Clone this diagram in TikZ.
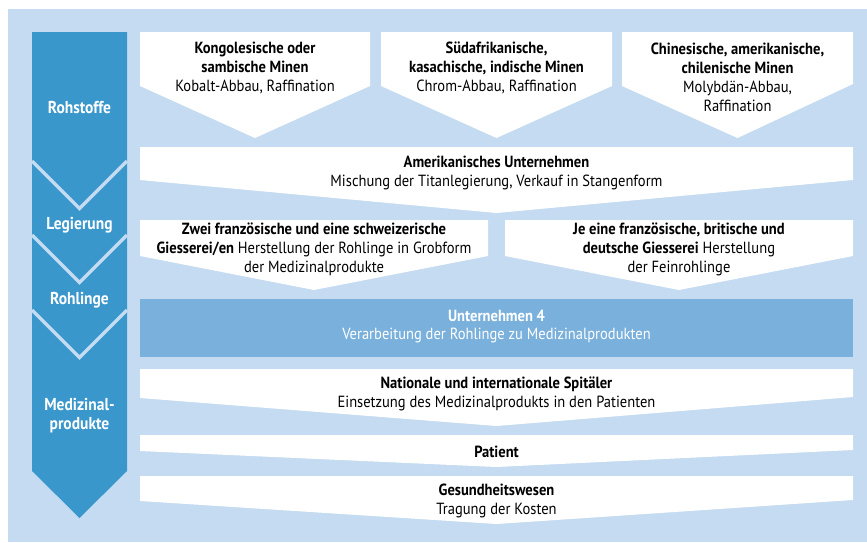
\documentclass[tikz,border=0pt]{standalone}
\usepackage{fontspec}
\setmainfont{PT Sans}[FakeStretch=0.9]
\definecolor{bgblue}{RGB}{197,219,241}
\definecolor{colblue}{RGB}{58,151,204}
\definecolor{midblue}{RGB}{122,176,220}
\begin{document}
\begin{tikzpicture}[x=0.02cm,y=-0.02cm]
\tikzstyle{every node}+=[inner sep=0pt, align=center, font=\fontsize{9.2}{10.8}\selectfont]
\tikzstyle{stage}=[text=white, font=\fontsize{9.8}{10.8}\selectfont\bfseries]
\tikzstyle{gap}=[bgblue, line width=0.065cm]
\useasboundingbox (0,0) rectangle (867,542);
\fill [bgblue] (8,9) rectangle (867,542);
\fill [colblue] (32,32) -- (127,32) -- (127,471) -- (79.5,518) -- (32,471) -- cycle;
\draw [gap] (32,161) -- (79.5,208.5) -- (127,161);
\draw [gap] (32,235) -- (79.5,282.5) -- (127,235);
\draw [gap] (32,310) -- (79.5,357.5) -- (127,310);
\node [stage] (rohstoffe) at (79.5,108) {Rohstoffe};
\node [stage] (legierung) at (79.5,225) {Legierung};
\node [stage] (rohlinge) at (79.5,300) {Rohlinge};
\node [stage] (produkte) at (79.5,415.5) {Medizinal-\\produkte};
\fill [white] (140,32) -- (370,32) -- (370,86) -- (255,138) -- (140,86) -- cycle;
\fill [white] (381,32) -- (612,32) -- (612,86) -- (496.5,138) -- (381,86) -- cycle;
\fill [white] (622,32) -- (853,32) -- (853,84) -- (737.5,138) -- (622,86) -- cycle;
\node (kongo) at (255,67.5) {\textbf{Kongolesische oder}\\\textbf{sambische Minen}\\Kobalt-Abbau, Raffination};
\node (suedafrika) at (496.5,67.5) {\textbf{Südafrikanische,}\\\textbf{kasachische, indische Minen}\\Chrom-Abbau, Raffination};
\node (china) at (737.5,77) {\textbf{Chinesische, amerikanische,}\\\textbf{chilenische Minen}\\Molybdän-Abbau,\\Raffination};
\fill [white] (140,147) -- (853,147) -- (853,180) -- (496.5,213) -- (140,180) -- cycle;
\node (amerika) at (496.5,173) {\textbf{Amerikanisches Unternehmen}\\Mischung der Titanlegierung, Verkauf in Stangenform};
\fill [white] (140,220) -- (488,220) -- (488,256) -- (314,290) -- (140,256) -- cycle;
\fill [white] (505,220) -- (853,220) -- (853,256) -- (679,290) -- (505,256) -- cycle;
\node (grobform) at (314,249.5) {\textbf{Zwei französische und eine schweizerische}\\\textbf{Giesserei/en} Herstellung der Rohlinge in Grobform\\der Medizinalprodukte};
\node (feinform) at (679,249.5) {\textbf{Je eine französische, britische und}\\\textbf{deutsche Giesserei} Herstellung\\der Feinrohlinge};
\fill [midblue] (140,299) rectangle (853,357);
\node [text=white] (firma4) at (496.5,326.5) {\textbf{Unternehmen 4}\\Verarbeitung der Rohlinge zu Medizinalprodukten};
\fill [white] (140,369) -- (853,369) -- (853,397) -- (496.5,426) -- (140,398) -- cycle;
\node (spitaeler) at (496.5,394) {\textbf{Nationale und internationale Spitäler}\\Einsetzung des Medizinalprodukts in den Patienten};
\fill [white] (140,435) -- (853,435) -- (853,450) -- (496.5,467) -- (140,451) -- cycle;
\node (patient) at (496.5,452) {\textbf{Patient}};
\fill [white] (140,476) -- (853,476) -- (853,500) -- (496.5,524) -- (140,501) -- cycle;
\node (gesundheit) at (496.5,501) {\textbf{Gesundheitswesen}\\Tragung der Kosten};
\end{tikzpicture}
\end{document}
